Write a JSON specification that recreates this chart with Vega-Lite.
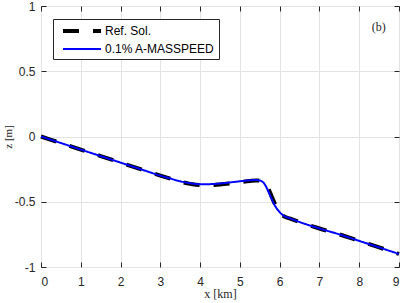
{
  "$schema": "https://vega.github.io/schema/vega-lite/v6.json",
  "autosize": "none",
  "width": 358,
  "height": 261,
  "padding": {"left": 41, "top": 6, "right": 4, "bottom": 36},
  "background": "white",
  "config": {
    "view": {"stroke": "#262626", "strokeWidth": 1},
    "axis": {
      "domain": false,
      "tickColor": "#262626",
      "tickSize": -5,
      "labelColor": "#262626",
      "labelFont": "Liberation Sans",
      "labelFontSize": 12,
      "titleColor": "#262626",
      "titleFont": "Liberation Serif",
      "titleFontSize": 12,
      "titleFontWeight": "normal",
      "gridColor": "#e3e3e3",
      "gridWidth": 1
    }
  },
  "data": {
    "values": [
      {"x": 0, "z": 0, "s": "0.1% A-MASSPEED"},
      {"x": 0.5, "z": -0.05, "s": "0.1% A-MASSPEED"},
      {"x": 1, "z": -0.1, "s": "0.1% A-MASSPEED"},
      {"x": 1.5, "z": -0.15, "s": "0.1% A-MASSPEED"},
      {"x": 2, "z": -0.2, "s": "0.1% A-MASSPEED"},
      {"x": 2.5, "z": -0.25, "s": "0.1% A-MASSPEED"},
      {"x": 3, "z": -0.3, "s": "0.1% A-MASSPEED"},
      {"x": 3.25, "z": -0.322, "s": "0.1% A-MASSPEED"},
      {"x": 3.5, "z": -0.343, "s": "0.1% A-MASSPEED"},
      {"x": 3.75, "z": -0.358, "s": "0.1% A-MASSPEED"},
      {"x": 4, "z": -0.366, "s": "0.1% A-MASSPEED"},
      {"x": 4.25, "z": -0.365, "s": "0.1% A-MASSPEED"},
      {"x": 4.5, "z": -0.36, "s": "0.1% A-MASSPEED"},
      {"x": 4.75, "z": -0.352, "s": "0.1% A-MASSPEED"},
      {"x": 5, "z": -0.343, "s": "0.1% A-MASSPEED"},
      {"x": 5.25, "z": -0.336, "s": "0.1% A-MASSPEED"},
      {"x": 5.4, "z": -0.333, "s": "0.1% A-MASSPEED"},
      {"x": 5.5, "z": -0.337, "s": "0.1% A-MASSPEED"},
      {"x": 5.6, "z": -0.356, "s": "0.1% A-MASSPEED"},
      {"x": 5.7, "z": -0.41, "s": "0.1% A-MASSPEED"},
      {"x": 5.8, "z": -0.48, "s": "0.1% A-MASSPEED"},
      {"x": 5.9, "z": -0.54, "s": "0.1% A-MASSPEED"},
      {"x": 6, "z": -0.58, "s": "0.1% A-MASSPEED"},
      {"x": 6.1, "z": -0.607, "s": "0.1% A-MASSPEED"},
      {"x": 6.25, "z": -0.626, "s": "0.1% A-MASSPEED"},
      {"x": 6.5, "z": -0.655, "s": "0.1% A-MASSPEED"},
      {"x": 7, "z": -0.705, "s": "0.1% A-MASSPEED"},
      {"x": 7.5, "z": -0.75, "s": "0.1% A-MASSPEED"},
      {"x": 8, "z": -0.8, "s": "0.1% A-MASSPEED"},
      {"x": 8.5, "z": -0.85, "s": "0.1% A-MASSPEED"},
      {"x": 9, "z": -0.9, "s": "0.1% A-MASSPEED"},
      {"x": 0, "z": 0, "s": "Ref. Sol."},
      {"x": 0.5, "z": -0.05, "s": "Ref. Sol."},
      {"x": 1, "z": -0.1, "s": "Ref. Sol."},
      {"x": 1.5, "z": -0.15, "s": "Ref. Sol."},
      {"x": 2, "z": -0.2, "s": "Ref. Sol."},
      {"x": 2.5, "z": -0.25, "s": "Ref. Sol."},
      {"x": 3, "z": -0.3, "s": "Ref. Sol."},
      {"x": 3.25, "z": -0.323, "s": "Ref. Sol."},
      {"x": 3.5, "z": -0.346, "s": "Ref. Sol."},
      {"x": 3.75, "z": -0.363, "s": "Ref. Sol."},
      {"x": 4, "z": -0.372, "s": "Ref. Sol."},
      {"x": 4.25, "z": -0.372, "s": "Ref. Sol."},
      {"x": 4.5, "z": -0.368, "s": "Ref. Sol."},
      {"x": 4.75, "z": -0.36, "s": "Ref. Sol."},
      {"x": 5, "z": -0.35, "s": "Ref. Sol."},
      {"x": 5.25, "z": -0.341, "s": "Ref. Sol."},
      {"x": 5.4, "z": -0.337, "s": "Ref. Sol."},
      {"x": 5.5, "z": -0.338, "s": "Ref. Sol."},
      {"x": 5.6, "z": -0.346, "s": "Ref. Sol."},
      {"x": 5.7, "z": -0.39, "s": "Ref. Sol."},
      {"x": 5.8, "z": -0.46, "s": "Ref. Sol."},
      {"x": 5.9, "z": -0.53, "s": "Ref. Sol."},
      {"x": 6, "z": -0.585, "s": "Ref. Sol."},
      {"x": 6.1, "z": -0.61, "s": "Ref. Sol."},
      {"x": 6.25, "z": -0.628, "s": "Ref. Sol."},
      {"x": 6.5, "z": -0.656, "s": "Ref. Sol."},
      {"x": 7, "z": -0.705, "s": "Ref. Sol."},
      {"x": 7.5, "z": -0.75, "s": "Ref. Sol."},
      {"x": 8, "z": -0.8, "s": "Ref. Sol."},
      {"x": 8.5, "z": -0.85, "s": "Ref. Sol."},
      {"x": 9, "z": -0.9, "s": "Ref. Sol."}
    ]
  },
  "layer": [
    {
      "transform": [{"filter": "datum.s === 'Ref. Sol.'"}],
      "mark": {"type": "line", "interpolate": "monotone", "strokeCap": "butt"},
      "encoding": {
        "x": {
          "field": "x", "type": "quantitative",
          "scale": {"domain": [0, 9], "nice": false, "zero": false},
          "axis": {"orient": "bottom", "values": [0,1,2,3,4,5,6,7,8,9], "grid": true, "title": "x [km]", "labelPadding": 14, "titlePadding": 1}
        },
        "y": {
          "field": "z", "type": "quantitative",
          "scale": {"domain": [-1, 1], "nice": false, "zero": false},
          "axis": {"orient": "left", "values": [-1,-0.5,0,0.5,1], "grid": true, "title": "z [m]", "labelPadding": 11, "titlePadding": 1, "titleFontSize": 11,
                   "labelExpr": "datum.value < 0 ? '-' + format(-datum.value, '~g') : format(datum.value, '~g')"}
        },
        "color": {
          "field": "s", "type": "nominal",
          "scale": {"domain": ["Ref. Sol.", "0.1% A-MASSPEED"], "range": ["#000000", "#0000ff"]},
          "legend": {
            "title": null, "orient": "none", "legendX": 12, "legendY": 13,
            "symbolType": "M-0.333,0H6", "symbolSize": 144, "labelOffset": 32,
            "labelFont": "Liberation Sans", "labelFontSize": 12, "labelColor": "#000000",
            "fillColor": "white", "strokeColor": "#262626", "padding": 4, "rowPadding": 3
          }
        },
        "strokeDash": {
          "field": "s", "type": "nominal",
          "scale": {"domain": ["Ref. Sol.", "0.1% A-MASSPEED"], "range": [[16, 14], [1, 0]]}
        },
        "strokeWidth": {
          "field": "s", "type": "nominal",
          "scale": {"domain": ["Ref. Sol.", "0.1% A-MASSPEED"], "range": [4, 2]}
        }
      }
    },
    {
      "transform": [{"filter": "datum.s === '0.1% A-MASSPEED'"}],
      "mark": {"type": "line", "interpolate": "monotone"},
      "encoding": {
        "x": {"field": "x", "type": "quantitative",
              "axis": {"orient": "top", "values": [0,1,2,3,4,5,6,7,8,9], "labels": false, "title": null, "grid": false}},
        "y": {"field": "z", "type": "quantitative",
              "axis": {"orient": "right", "values": [-1,-0.5,0,0.5,1], "labels": false, "title": null, "grid": false}},
        "color": {"field": "s", "type": "nominal"},
        "strokeDash": {"field": "s", "type": "nominal"},
        "strokeWidth": {"field": "s", "type": "nominal"}
      }
    },
    {
      "data": {"values": [{"label": "(b)"}]},
      "mark": {"type": "text", "font": "Liberation Serif", "fontSize": 12, "color": "#262626"},
      "encoding": {
        "x": {"datum": 8.49, "type": "quantitative", "axis": null},
        "y": {"datum": 0.84, "type": "quantitative", "axis": null},
        "text": {"field": "label"}
      }
    }
  ],
  "resolve": {"axis": {"x": "independent", "y": "independent"}}
}
